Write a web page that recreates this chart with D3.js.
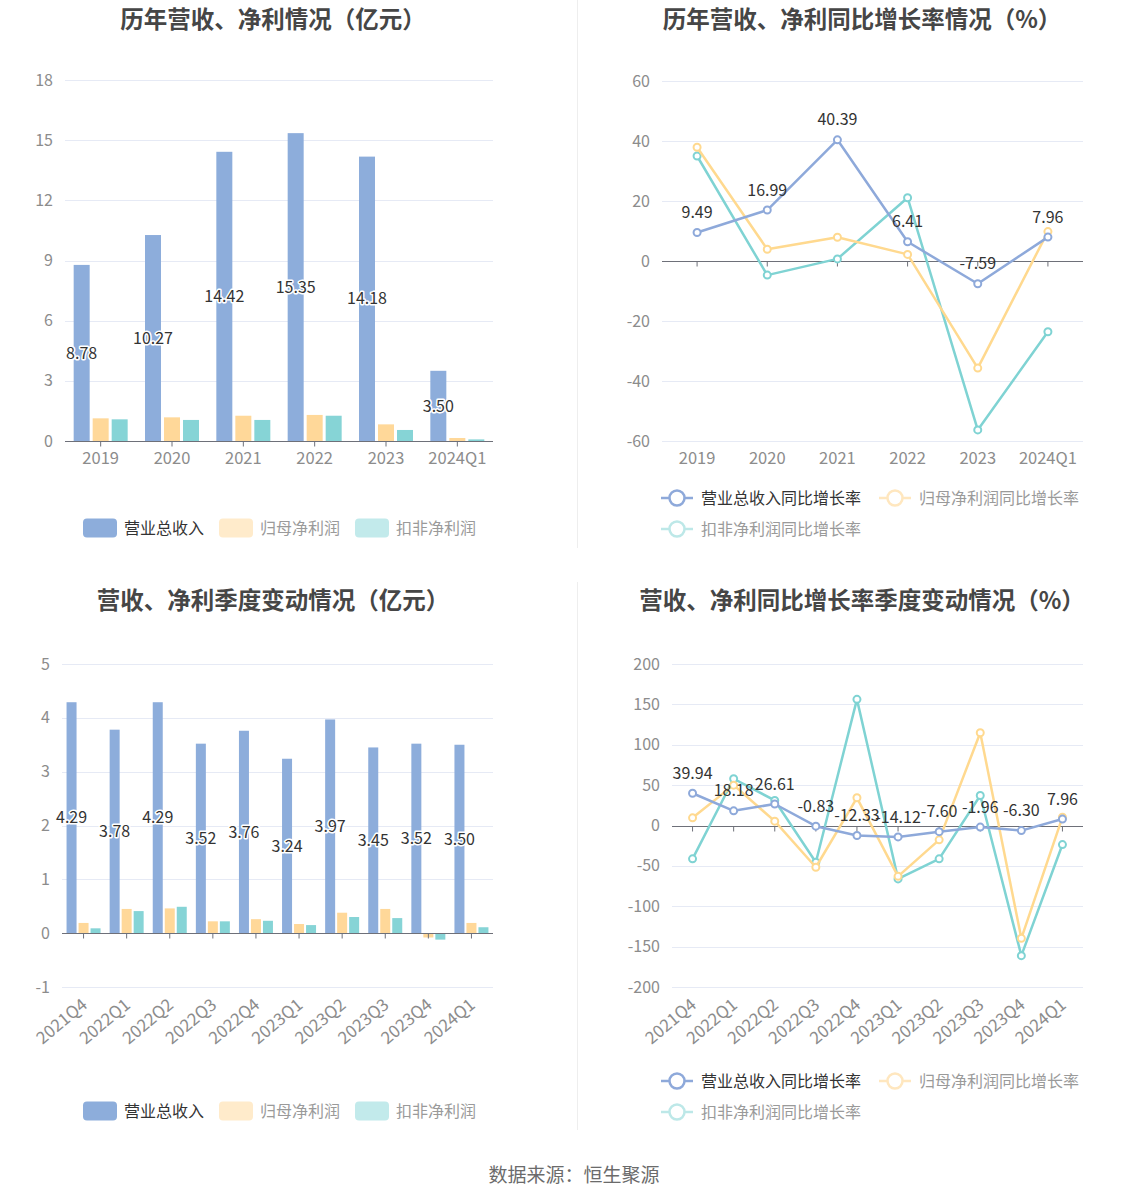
<!DOCTYPE html>
<html><head><meta charset="utf-8">
<script src="https://cdn.jsdelivr.net/npm/d3@7/dist/d3.min.js"></script>
<style>
html,body{margin:0;padding:0;background:#fff;}
svg{display:block;font-family:"Noto Sans CJK SC","Noto Sans",sans-serif;}
</style></head>
<body>
<svg id="c" width="1148" height="1202"></svg>
<script>
// ---------- data ----------
const yearCats = ["2019","2020","2021","2022","2023","2024Q1"];
const yearRevenue = [8.78,10.27,14.42,15.35,14.18,3.50];
const yearNetProfit = [1.13,1.18,1.26,1.30,0.83,0.15];
const yearDeductProfit = [1.08,1.05,1.05,1.26,0.55,0.08];
const yearTicks = [0,3,6,9,12,15,18];

const yearRevenueYoY = [9.49,16.99,40.39,6.41,-7.59,7.96];
const yearNetYoY = [37.9,3.9,7.9,2.2,-35.7,9.8];
const yearDeductYoY = [35.0,-4.7,0.7,21.1,-56.3,-23.6];
const yearYoYTicks = [-60,-40,-20,0,20,40,60];

const qCats = ["2021Q4","2022Q1","2022Q2","2022Q3","2022Q4","2023Q1","2023Q2","2023Q3","2023Q4","2024Q1"];
const qRevenue = [4.29,3.78,4.29,3.52,3.76,3.24,3.97,3.45,3.52,3.50];
const qNetProfit = [0.19,0.45,0.46,0.22,0.26,0.17,0.38,0.45,-0.08,0.19];
const qDeductProfit = [0.09,0.41,0.49,0.22,0.23,0.15,0.30,0.28,-0.12,0.11];
const qTicks = [-1,0,1,2,3,4,5];

const qRevenueYoY = [39.94,18.18,26.61,-0.83,-12.33,-14.12,-7.60,-1.96,-6.30,7.96];
const qNetYoY = [9.5,50,5.4,-51.7,34.3,-63,-17.8,114.9,-139.7,10.3];
const qDeductYoY = [-41.3,57.9,31,-45.5,156.2,-66.1,-41.3,37.2,-161.2,-23.6];
const qYoYTicks = [-200,-150,-100,-50,0,50,100,150,200];

const titles = ["历年营收、净利情况（亿元）","历年营收、净利同比增长率情况（%）","营收、净利季度变动情况（亿元）","营收、净利同比增长率季度变动情况（%）"];
const barNames = ["营业总收入","归母净利润","扣非净利润"];
const lineNames = ["营业总收入同比增长率","归母净利润同比增长率","扣非净利润同比增长率"];
const source = "数据来源：恒生聚源";

// ---------- style ----------
const C = {blue:"#8DADDB", orange:"#FFD899", cyan:"#86D4D6"};
const LC = {blue:"#8EA9DA", orange:"#FFD98F", cyan:"#7FD3D3"};
const FADE = {orange:"#FFEBCB", cyan:"#C2EAEB"};
const grid = "#E6EAF5", axisCol = "#6E7079", tickTxt = "#8C8C8C";

const svg = d3.select("#c");

// dividers
svg.append("line").attr("x1",577.5).attr("x2",577.5).attr("y1",0).attr("y2",548).attr("stroke","#EEEEEE");
svg.append("line").attr("x1",577.5).attr("x2",577.5).attr("y1",582).attr("y2",1130).attr("stroke","#EEEEEE");

function title(t,x,y){
  svg.append("text").attr("x",x).attr("y",y).attr("dy","0.35em").attr("text-anchor","middle")
    .attr("font-size",23.5).attr("font-weight","bold").attr("fill","#464646").text(t);
}
title(titles[0],273,20);
title(titles[1],862,20);
title(titles[2],273,601);
title(titles[3],862,601);

svg.append("text").attr("x",574).attr("y",1175).attr("dy","0.35em").attr("text-anchor","middle")
  .attr("font-size",19).attr("fill","#6b6b6b").text(source);

function yAxisGrid(g,y,ticks,L,R){
  g.append("g").selectAll("line").data(ticks).join("line")
    .attr("x1",L).attr("x2",R).attr("y1",d=>Math.round(y(d))+0.5).attr("y2",d=>Math.round(y(d))+0.5)
    .attr("stroke",grid);
  g.append("g").selectAll("text").data(ticks).join("text")
    .attr("x",L-12).attr("y",d=>y(d)).attr("dy","0.35em").attr("text-anchor","end")
    .attr("font-size",16).attr("fill",tickTxt).text(d=>d);
}
function zeroAxis(g,x,y,cats,L,R){
  const y0 = Math.round(y(0))+0.5;
  g.append("line").attr("x1",L).attr("x2",R).attr("y1",y0).attr("y2",y0).attr("stroke",axisCol).attr("stroke-width",1.2);
  g.append("g").selectAll("line").data(cats).join("line")
    .attr("x1",d=>x(d)+x.bandwidth()/2).attr("x2",d=>x(d)+x.bandwidth()/2)
    .attr("y1",y0).attr("y2",y0+5).attr("stroke",axisCol);
}
function xLabels(g,x,cats,yb,rot){
  const s = g.append("g").selectAll("text").data(cats).join("text")
    .attr("font-size",rot?17:16.5).attr("fill",tickTxt).text(d=>d);
  if(!rot){
    s.attr("x",d=>x(d)+x.bandwidth()/2).attr("y",yb+17).attr("dy","0.35em").attr("text-anchor","middle");
  } else {
    s.attr("text-anchor","end")
     .attr("transform",d=>`translate(${x(d)+x.bandwidth()/2+1},${yb+15}) rotate(-40)`)
     .attr("dy","0.35em");
  }
}
function label(g,x,y,t,size){
  g.append("text").attr("x",x).attr("y",y).attr("dy","0.35em").attr("text-anchor","middle")
    .attr("font-size",size).attr("fill","#333").attr("stroke","#fff").attr("stroke-width",3)
    .attr("paint-order","stroke").attr("stroke-linejoin","round").text(t);
}

function barChart(opt){
  const {cats,series,ticks,L,R,T,B,bw,gap,rot,ly} = opt;
  const g = svg.append("g");
  const x = d3.scaleBand().domain(cats).range([L,R]);
  const y = d3.scaleLinear().domain([ticks[0],ticks[ticks.length-1]]).range([B,T]);
  yAxisGrid(g,y,ticks,L,R);
  const cols=[C.blue,C.orange,C.cyan];
  const groupW = 3*bw+2*gap;
  series.forEach((vals,si)=>{
    g.append("g").selectAll("rect").data(vals).join("rect")
      .attr("x",(d,i)=>x(cats[i])+x.bandwidth()/2-groupW/2+si*(bw+gap))
      .attr("width",bw)
      .attr("y",d=>y(Math.max(0,d)))
      .attr("height",d=>Math.abs(y(d)-y(0)))
      .attr("fill",cols[si]);
  });
  zeroAxis(g,x,y,cats,L,R);
  xLabels(g,x,cats,B,rot);
  series[0].forEach((d,i)=>{
    const cx = x(cats[i])+x.bandwidth()/2-groupW/2+bw/2;
    label(g,cx,(y(d)+y(0))/2,d.toFixed(2),16);
  });
  // legend
  const lg = svg.append("g");
  const items=[{x:83,c:C.blue,t:"#333"},{x:219,c:FADE.orange,t:"#9a9a9a"},{x:355,c:FADE.cyan,t:"#9a9a9a"}];
  items.forEach((it,i)=>{
    lg.append("rect").attr("x",it.x).attr("y",ly-9.5).attr("width",34).attr("height",19).attr("rx",4).attr("fill",it.c);
    lg.append("text").attr("x",it.x+41).attr("y",ly).attr("dy","0.35em").attr("font-size",16).attr("fill",it.t).text(barNames[i]);
  });
}

function lineChart(opt){
  const {cats,series,ticks,L,R,T,B,rot,ly,lgx} = opt;
  const g = svg.append("g");
  const x = d3.scaleBand().domain(cats).range([L,R]);
  const y = d3.scaleLinear().domain([ticks[0],ticks[ticks.length-1]]).range([B,T]);
  yAxisGrid(g,y,ticks,L,R);
  zeroAxis(g,x,y,cats,L,R);
  xLabels(g,x,cats,B,rot);
  const cols=[LC.blue,LC.orange,LC.cyan];
  const cx = c=>x(c)+x.bandwidth()/2;
  const line = d3.line().x((d,i)=>cx(cats[i])).y(d=>y(d));
  [2,1,0].forEach(si=>{
    g.append("path").datum(series[si]).attr("d",line).attr("fill","none")
      .attr("stroke",cols[si]).attr("stroke-width",2.5).attr("stroke-linejoin","round");
    g.append("g").selectAll("circle").data(series[si]).join("circle")
      .attr("cx",(d,i)=>cx(cats[i])).attr("cy",d=>y(d)).attr("r",3.5)
      .attr("fill","#fff").attr("stroke",cols[si]).attr("stroke-width",2);
  });
  series[0].forEach((d,i)=>{
    g.append("text").attr("x",cx(cats[i])).attr("y",y(d)-20).attr("dy","0.35em").attr("text-anchor","middle")
      .attr("font-size",16).attr("fill","#333").text(d.toFixed(2));
  });
  const lg = svg.append("g");
  const items=[{x:lgx,y:ly,c:LC.blue,t:"#333"},{x:lgx+218,y:ly,c:"#FFE7BF",t:"#9a9a9a"},{x:lgx,y:ly+31,c:"#BDE8E8",t:"#9a9a9a"}];
  items.forEach((it,i)=>{
    lg.append("line").attr("x1",it.x).attr("x2",it.x+32).attr("y1",it.y).attr("y2",it.y).attr("stroke",it.c).attr("stroke-width",2.5);
    lg.append("circle").attr("cx",it.x+16).attr("cy",it.y).attr("r",7.5).attr("fill","#fff").attr("stroke",it.c).attr("stroke-width",2.5);
    lg.append("text").attr("x",it.x+40).attr("y",it.y).attr("dy","0.35em").attr("font-size",16).attr("fill",it.t).text(lineNames[i]);
  });
}

barChart({cats:yearCats,series:[yearRevenue,yearNetProfit,yearDeductProfit],ticks:yearTicks,
  L:65,R:493,T:80,B:441,bw:16,gap:3,rot:false,ly:528});
lineChart({cats:yearCats,series:[yearRevenueYoY,yearNetYoY,yearDeductYoY],ticks:yearYoYTicks,
  L:662,R:1083,T:81,B:441,rot:false,ly:498,lgx:661});
barChart({cats:qCats,series:[qRevenue,qNetProfit,qDeductProfit],ticks:qTicks,
  L:62,R:493,T:664,B:987,bw:10,gap:2,rot:true,ly:1111});
lineChart({cats:qCats,series:[qRevenueYoY,qNetYoY,qDeductYoY],ticks:qYoYTicks,
  L:672,R:1083,T:664,B:987,rot:true,ly:1081,lgx:661});
</script>
</body></html>
